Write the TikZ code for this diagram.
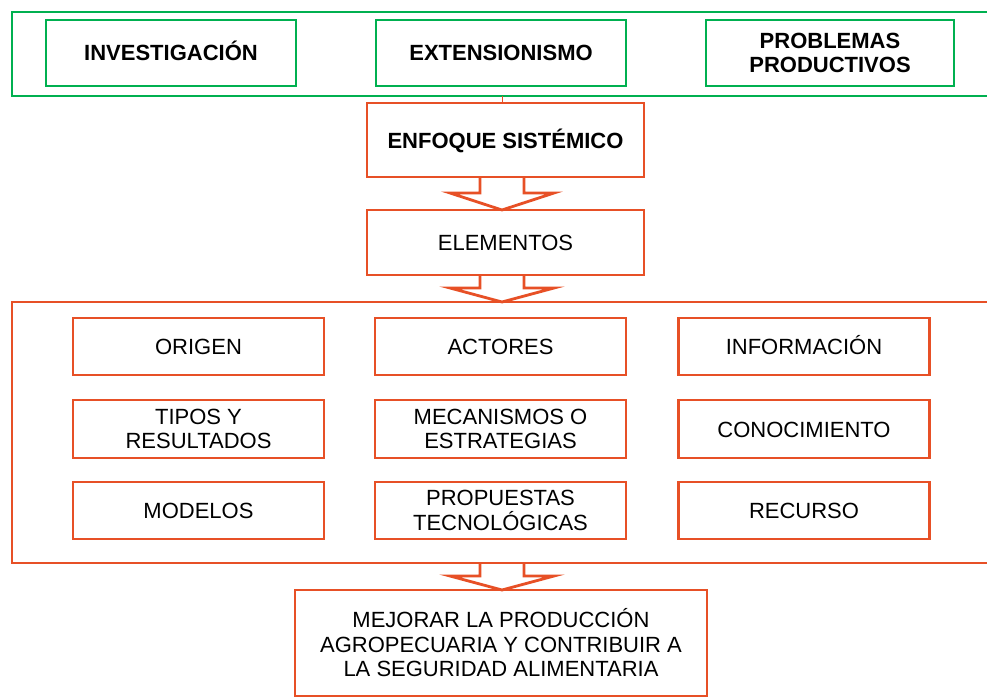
\documentclass[tikz,border=0pt]{standalone}
\usepackage{fontspec}
\setmainfont{Liberation Sans}
\usetikzlibrary{calc}
\definecolor{grn}{RGB}{0,176,80}
\definecolor{org}{RGB}{231,80,38}
\newcommand\blockarr[3]{%
  \coordinate (hh) at ([yshift=#3]#2.north);
  \draw[barrow] (480,0 |- #1.south) -- (480,0 |- hh) -- (450,0 |- hh) -- (502,0 |- #2.north)
    -- (554,0 |- hh) -- (524,0 |- hh) -- (524,0 |- #1.south);
}
\begin{document}
\begin{tikzpicture}[x=1pt,y=-1pt,
  box/.style={draw=#1, line width=2.8pt, rectangle, outer sep=0pt, inner sep=0pt,
    align=center, font=\fontsize{22}{24.5}\selectfont, text=black},
  gbox/.style={box=grn, font=\fontsize{22}{24.5}\selectfont\bfseries},
  obox/.style={box=org},
  bbox/.style={box=org, font=\fontsize{22}{24.5}\selectfont\bfseries},
  one/.style={text height=16pt, text depth=0pt},
  barrow/.style={draw=org, line width=2.8pt, line join=miter}]
\clip (0,0) rectangle (987,698);
\fill[white] (0,0) rectangle (987,698);
% top group
\node[gbox, minimum width=1000pt, minimum height=84pt] (top) at (512,54) {};
\node[gbox, one, minimum width=250pt, minimum height=66pt] (inv) at (171,53) {INVESTIGACIÓN};
\node[gbox, one, minimum width=250pt, minimum height=66pt] (ext) at (501,53) {EXTENSIONISMO};
\node[gbox, minimum width=248pt, minimum height=66pt] (prob) at (830,53) {PROBLEMAS\\PRODUCTIVOS};
% chain
\node[bbox, one, minimum width=277pt, minimum height=74pt] (enf) at (505.5,140) {ENFOQUE SISTÉMICO};
\node[obox, one, minimum width=277pt, minimum height=65pt] (ele) at (505.5,242.5) {ELEMENTOS};
\node[obox, minimum width=1000pt, minimum height=261pt] (big) at (512,432.5) {};
% grid
\tikzset{cell/.style={obox, minimum width=251pt, minimum height=57pt}}
\node[cell, one] (ori) at (198.5,346.5) {ORIGEN};
\node[cell, one] (act) at (500.5,346.5) {ACTORES};
\node[cell, one] (inf) at (804,346.5) {INFORMACIÓN};
\node[cell, minimum height=58pt] (tip) at (198.5,429) {TIPOS Y\\RESULTADOS};
\node[cell, minimum height=58pt] (mec) at (500.5,429) {MECANISMOS O\\ESTRATEGIAS};
\node[cell, one, minimum height=58pt] (con) at (804,429) {CONOCIMIENTO};
\node[cell, one] (mod) at (198.5,510.5) {MODELOS};
\node[cell] (pro) at (500.5,510.5) {PROPUESTAS\\TECNOLÓGICAS};
\node[cell, one] (rec) at (804,510.5) {RECURSO};
% goal
\node[obox, minimum width=412pt, minimum height=106pt] (goal) at (501,643) {MEJORAR LA PRODUCCIÓN\\AGROPECUARIA Y CONTRIBUIR A\\LA SEGURIDAD ALIMENTARIA};
% connectors
\draw[org, line width=1pt] (502,0 |- top.south) -- (502,0 |- enf.north);
\blockarr{enf}{ele}{17pt}
\blockarr{ele}{big}{14pt}
\blockarr{big}{goal}{14pt}
\end{tikzpicture}
\end{document}
